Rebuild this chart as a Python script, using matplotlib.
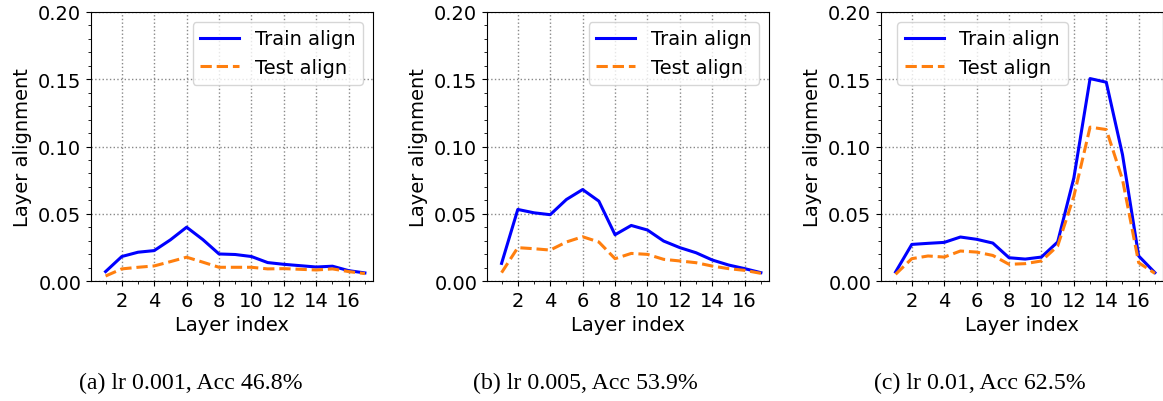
import matplotlib
matplotlib.use("Agg")
import matplotlib.pyplot as plt
from matplotlib.ticker import MultipleLocator

# ================== DATA ==================
layers = list(range(1, 18))

train_a = [0.007, 0.0182, 0.0214, 0.0226, 0.0306, 0.040, 0.0308, 0.0201, 0.0197,
           0.0182, 0.0137, 0.0124, 0.0114, 0.0104, 0.011, 0.0077, 0.006]
test_a = [0.0037, 0.009, 0.0102, 0.0112, 0.0144, 0.0177, 0.014, 0.0102, 0.0102,
          0.0102, 0.009, 0.0092, 0.0087, 0.0082, 0.009, 0.007, 0.0055]

train_b = [0.0131, 0.0532, 0.0507, 0.0493, 0.0606, 0.068, 0.0594, 0.0344, 0.0413,
           0.0379, 0.0297, 0.0248, 0.021, 0.0156, 0.0119, 0.0092, 0.0062]
test_b = [0.0062, 0.0248, 0.024, 0.023, 0.029, 0.0329, 0.029, 0.0166, 0.0205,
          0.0198, 0.0161, 0.0149, 0.0136, 0.0111, 0.0092, 0.0079, 0.0057]

train_c = [0.0067, 0.0272, 0.028, 0.0287, 0.0327, 0.031, 0.0282, 0.0173, 0.0163,
           0.0178, 0.029, 0.0767, 0.1505, 0.1478, 0.094, 0.0186, 0.0062]
test_c = [0.005, 0.0166, 0.0186, 0.0178, 0.0223, 0.0215, 0.019, 0.0124, 0.0129,
          0.0149, 0.026, 0.063, 0.1144, 0.1126, 0.0755, 0.0136, 0.0057]

captions = ["(a) lr 0.001, Acc 46.8%", "(b) lr 0.005, Acc 53.9%", "(c) lr 0.01, Acc 62.5%"]

# ================== FIGURE ==================
plt.rcParams["font.family"] = "DejaVu Sans"
plt.rcParams["font.size"] = 14

W, H = 1163, 402
fig = plt.figure(figsize=(W / 100, H / 100), dpi=100)

lefts = [91, 487, 881]
ax_w, ax_top, ax_bot = 282, 13, 282
legend_anchor = [(0.965, 0.964, "upper right"),
                 (0.965, 0.964, "upper right"),
                 (0.057, 0.964, "upper left")]
series = [(train_a, test_a), (train_b, test_b), (train_c, test_c)]
cap_x = [191, 585, 980]

for i, (train, test) in enumerate(series):
    ax = fig.add_axes([lefts[i] / W, (H - ax_bot) / H, ax_w / W, (ax_bot - ax_top) / H])
    ax.plot(layers, train, color="#0000ff", lw=2.2, label="Train align")
    ax.plot(layers, test, color="#ff7f0e", lw=2.2, ls="--", label="Test align")
    ax.set_xlim(0.1, 17.5)
    ax.set_ylim(0, 0.2)
    ax.xaxis.set_major_locator(MultipleLocator(2))
    ax.xaxis.set_minor_locator(MultipleLocator(1))
    ax.yaxis.set_major_locator(MultipleLocator(0.05))
    ax.yaxis.set_minor_locator(MultipleLocator(0.01))
    ax.set_yticks([0, 0.05, 0.1, 0.15, 0.2])
    ax.set_yticklabels(["0.00", "0.05", "0.10", "0.15", "0.20"])
    ax.set_xticks([2, 4, 6, 8, 10, 12, 14, 16])
    ax.grid(True, which="major", ls=":", color="#888888", lw=1.0)
    ax.set_xlabel("Layer index")
    ax.set_ylabel("Layer alignment")
    bx, by, loc = legend_anchor[i]
    ax.legend(loc=loc, bbox_to_anchor=(bx, by), borderaxespad=0)
    fig.text(cap_x[i] / W, (H - 383) / H, captions[i], ha="center", va="center",
             family="Liberation Serif", fontsize=17.2)

fig.savefig("out.png", dpi=100)
